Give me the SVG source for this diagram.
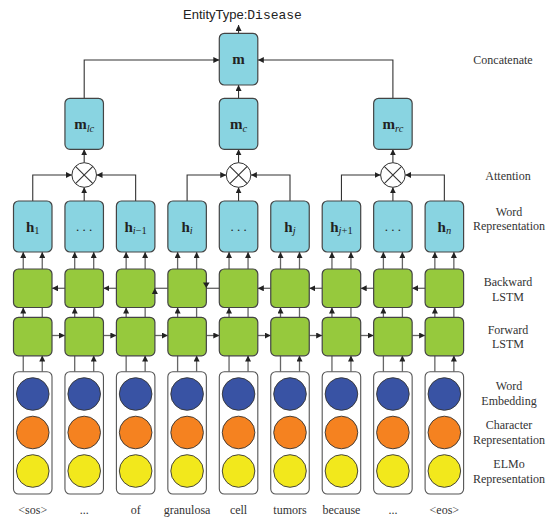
<svg xmlns="http://www.w3.org/2000/svg" width="554" height="519" viewBox="0 0 554 519">
<style>
.hb{fill:#89D4E1;stroke:#444;stroke-width:1.2}
.ls{fill:#96C93D;stroke:#444;stroke-width:1.2}
.eb{fill:#fff;stroke:#555;stroke-width:1.1}
.cb{fill:#3953A4;stroke:#333;stroke-width:0.9}
.co{fill:#F58220;stroke:#333;stroke-width:0.9}
.cy{fill:#F2E81C;stroke:#333;stroke-width:0.9}
.att{fill:#fff;stroke:#333;stroke-width:1}
.c1{fill:none;stroke:#666;stroke-width:1.3}
.c2{fill:none;stroke:#333;stroke-width:1.1}
.a{marker-end:url(#arr)}
.lab{font-family:"Liberation Serif","Times New Roman",serif;font-size:12px;fill:#333;text-anchor:middle}
.bl{font-family:"Liberation Serif","Times New Roman",serif;font-size:15px;font-weight:bold;fill:#222;text-anchor:middle}
.sub{font-size:10.5px;font-weight:normal;font-style:italic}
.sr{font-size:10.5px;font-weight:normal}
.dots{font-family:"Liberation Serif",serif;font-size:13px;fill:#222;text-anchor:middle}
</style>
<defs>
<marker id="arr" viewBox="0 0 10 10" refX="10" refY="5" markerWidth="6" markerHeight="6" markerUnits="userSpaceOnUse" orient="auto">
<path d="M0,0 L10,5 L0,10 z" fill="#222"/>
</marker>
</defs>

<g id="connectors">
<g id="vertical">
<path class="c1" d="M23.25 371.7V355.5M42.25 317.3V307.5"/>
<path class="c1 a" d="M42.25 371.7V355.5"/><path class="c1 a" d="M23.25 317.3V307.5"/><path class="c1 a" d="M23.25 269V252"/><path class="c1 a" d="M42.25 269V252"/>
<path class="c1" d="M74.7 371.7V355.5M93.7 317.3V307.5"/>
<path class="c1 a" d="M93.7 371.7V355.5"/><path class="c1 a" d="M74.7 317.3V307.5"/><path class="c1 a" d="M74.7 269V252"/><path class="c1 a" d="M93.7 269V252"/>
<path class="c1" d="M126.15 371.7V355.5M145.15 317.3V307.5"/>
<path class="c1 a" d="M145.15 371.7V355.5"/><path class="c1 a" d="M126.15 317.3V307.5"/><path class="c1 a" d="M126.15 269V252"/><path class="c1 a" d="M145.15 269V252"/>
<path class="c1" d="M177.6 371.7V355.5M196.6 317.3V307.5"/>
<path class="c1 a" d="M196.6 371.7V355.5"/><path class="c1 a" d="M177.6 317.3V307.5"/><path class="c1 a" d="M177.6 269V252"/><path class="c1 a" d="M196.6 269V252"/>
<path class="c1" d="M229.05 371.7V355.5M248.05 317.3V307.5"/>
<path class="c1 a" d="M248.05 371.7V355.5"/><path class="c1 a" d="M229.05 317.3V307.5"/><path class="c1 a" d="M229.05 269V252"/><path class="c1 a" d="M248.05 269V252"/>
<path class="c1" d="M280.5 371.7V355.5M299.5 317.3V307.5"/>
<path class="c1 a" d="M299.5 371.7V355.5"/><path class="c1 a" d="M280.5 317.3V307.5"/><path class="c1 a" d="M280.5 269V252"/><path class="c1 a" d="M299.5 269V252"/>
<path class="c1" d="M331.95 371.7V355.5M350.95 317.3V307.5"/>
<path class="c1 a" d="M350.95 371.7V355.5"/><path class="c1 a" d="M331.95 317.3V307.5"/><path class="c1 a" d="M331.95 269V252"/><path class="c1 a" d="M350.95 269V252"/>
<path class="c1" d="M383.4 371.7V355.5M402.4 317.3V307.5"/>
<path class="c1 a" d="M402.4 371.7V355.5"/><path class="c1 a" d="M383.4 317.3V307.5"/><path class="c1 a" d="M383.4 269V252"/><path class="c1 a" d="M402.4 269V252"/>
<path class="c1" d="M434.85 371.7V355.5M453.85 317.3V307.5"/>
<path class="c1 a" d="M453.85 371.7V355.5"/><path class="c1 a" d="M434.85 317.3V307.5"/><path class="c1 a" d="M434.85 269V252"/><path class="c1 a" d="M453.85 269V252"/>
</g>
<g id="backward-links">
<path class="c1 a" d="M64.95 288.3H52"/>
<path class="c1 a" d="M116.4 288.3H103.45"/>
<path class="c1" d="M167.85 288.3H154.9"/>
<path class="c1" d="M219.3 288.3H206.35"/>
<path class="c1 a" d="M270.75 288.3H257.8"/>
<path class="c1 a" d="M322.2 288.3H309.25"/>
<path class="c1 a" d="M373.65 288.3H360.7"/>
<path class="c1 a" d="M425.1 288.3H412.15"/>
</g>
<g id="forward-links">
<path class="c1 a" d="M52 335.5H64.95"/>
<path class="c1 a" d="M103.45 335.5H116.4"/>
<path class="c1 a" d="M154.9 335.5H167.85"/>
<path class="c1 a" d="M206.35 335.5H219.3"/>
<path class="c1 a" d="M257.8 335.5H270.75"/>
<path class="c1 a" d="M309.25 335.5H322.2"/>
<path class="c1 a" d="M360.7 335.5H373.65"/>
<path class="c1 a" d="M412.15 335.5H425.1"/>
</g>
<g id="attention-links">
<path class="c2 a" d="M32.75 201V175H71.9"/>
<path class="c2 a" d="M135.65 201V175H96.5"/>
<path class="c2 a" d="M84.2 201V187.3"/>
<path class="c2 a" d="M84.2 162.7V149.3"/>
<path class="c2 a" d="M187.1 201V175H226.25"/>
<path class="c2 a" d="M290 201V175H250.85"/>
<path class="c2 a" d="M238.55 201V187.3"/>
<path class="c2 a" d="M238.55 162.7V149.3"/>
<path class="c2 a" d="M341.45 201V175H380.6"/>
<path class="c2 a" d="M444.35 201V175H405.2"/>
<path class="c2 a" d="M392.9 201V187.3"/>
<path class="c2 a" d="M392.9 162.7V149.3"/>
</g>
<g id="concat-links">
<path class="c2 a" d="M84.2 98.3V60H219.3"/>
<path class="c2 a" d="M392.9 98.3V60H257.8"/>
<path class="c2 a" d="M238.55 98.3V85"/>
<path class="c2 a" d="M238.55 33.3V25"/>
</g>
</g>

<g id="title"><text x="183" y="19" font-size="13" fill="#222"><tspan font-family="Liberation Sans, Arial, sans-serif">EntityType:</tspan><tspan font-family="Liberation Mono, Courier New, monospace">Disease</tspan></text></g>

<g id="node-m"><rect class="hb" x="219.3" y="33.3" width="38.5" height="51.7" rx="5"/><text class="bl" x="238.55" y="64">m</text></g>
<g id="node-mlc"><rect class="hb" x="64.95" y="98.3" width="38.5" height="51" rx="5"/><text class="bl" x="84.2" y="129">m<tspan class="sub" dy="3">lc</tspan></text></g>
<g id="node-mc"><rect class="hb" x="219.3" y="98.3" width="38.5" height="51" rx="5"/><text class="bl" x="238.55" y="129">m<tspan class="sub" dy="3">c</tspan></text></g>
<g id="node-mrc"><rect class="hb" x="373.65" y="98.3" width="38.5" height="51" rx="5"/><text class="bl" x="392.9" y="129">m<tspan class="sub" dy="3">rc</tspan></text></g>

<g id="att-left"><circle class="att" cx="84.2" cy="175" r="12.3"/><path class="c2" d="M75.5 166.3L92.9 183.7M92.9 166.3L75.5 183.7"/></g>
<g id="att-center"><circle class="att" cx="238.55" cy="175" r="12.3"/><path class="c2" d="M229.85 166.3L247.25 183.7M247.25 166.3L229.85 183.7"/></g>
<g id="att-right"><circle class="att" cx="392.9" cy="175" r="12.3"/><path class="c2" d="M384.2 166.3L401.6 183.7M401.6 166.3L384.2 183.7"/></g>

<g id="h-1"><rect class="hb" x="13.5" y="201" width="38.5" height="51" rx="5"/><text class="bl" x="32.75" y="231.5">h<tspan class="sr" dy="2">1</tspan></text></g>
<g id="h-dots1"><rect class="hb" x="64.95" y="201" width="38.5" height="51" rx="5"/><text class="dots" x="84.2" y="231">. . .</text></g>
<g id="h-im1"><rect class="hb" x="116.4" y="201" width="38.5" height="51" rx="5"/><text class="bl" x="135.65" y="231.5">h<tspan class="sub" dy="2">i</tspan><tspan class="sr">−1</tspan></text></g>
<g id="h-i"><rect class="hb" x="167.85" y="201" width="38.5" height="51" rx="5"/><text class="bl" x="187.1" y="231.5">h<tspan class="sub" dy="2">i</tspan></text></g>
<g id="h-dots2"><rect class="hb" x="219.3" y="201" width="38.5" height="51" rx="5"/><text class="dots" x="238.55" y="231">. . .</text></g>
<g id="h-j"><rect class="hb" x="270.75" y="201" width="38.5" height="51" rx="5"/><text class="bl" x="290" y="231.5">h<tspan class="sub" dy="2">j</tspan></text></g>
<g id="h-jp1"><rect class="hb" x="322.2" y="201" width="38.5" height="51" rx="5"/><text class="bl" x="341.45" y="231.5">h<tspan class="sub" dy="2">j</tspan><tspan class="sr">+1</tspan></text></g>
<g id="h-dots3"><rect class="hb" x="373.65" y="201" width="38.5" height="51" rx="5"/><text class="dots" x="392.9" y="231">. . .</text></g>
<g id="h-n"><rect class="hb" x="425.1" y="201" width="38.5" height="51" rx="5"/><text class="bl" x="444.35" y="231.5">h<tspan class="sub" dy="2">n</tspan></text></g>

<g id="bwd-lstm">
<rect class="ls" x="13.5" y="269" width="38.5" height="38.5" rx="5"/>
<rect class="ls" x="64.95" y="269" width="38.5" height="38.5" rx="5"/>
<rect class="ls" x="116.4" y="269" width="38.5" height="38.5" rx="5"/>
<rect class="ls" x="167.85" y="269" width="38.5" height="38.5" rx="5"/>
<rect class="ls" x="219.3" y="269" width="38.5" height="38.5" rx="5"/>
<rect class="ls" x="270.75" y="269" width="38.5" height="38.5" rx="5"/>
<rect class="ls" x="322.2" y="269" width="38.5" height="38.5" rx="5"/>
<rect class="ls" x="373.65" y="269" width="38.5" height="38.5" rx="5"/>
<rect class="ls" x="425.1" y="269" width="38.5" height="38.5" rx="5"/>
</g>
<g id="bwd-arrowheads">
<path d="M151.9 294 L154.9 288 L157.9 294 z" fill="#222"/>
<path d="M203 282.5 L206.3 288 L209.6 282.5 z" fill="#222"/>
</g>
<g id="fwd-lstm">
<rect class="ls" x="13.5" y="317.3" width="38.5" height="38.5" rx="5"/>
<rect class="ls" x="64.95" y="317.3" width="38.5" height="38.5" rx="5"/>
<rect class="ls" x="116.4" y="317.3" width="38.5" height="38.5" rx="5"/>
<rect class="ls" x="167.85" y="317.3" width="38.5" height="38.5" rx="5"/>
<rect class="ls" x="219.3" y="317.3" width="38.5" height="38.5" rx="5"/>
<rect class="ls" x="270.75" y="317.3" width="38.5" height="38.5" rx="5"/>
<rect class="ls" x="322.2" y="317.3" width="38.5" height="38.5" rx="5"/>
<rect class="ls" x="373.65" y="317.3" width="38.5" height="38.5" rx="5"/>
<rect class="ls" x="425.1" y="317.3" width="38.5" height="38.5" rx="5"/>
</g>

<g id="emb-0"><rect class="eb" x="13.5" y="371.7" width="38.5" height="122.3" rx="5"/><circle class="cb" cx="32.75" cy="394" r="16.3"/><circle class="co" cx="32.75" cy="432.5" r="16.3"/><circle class="cy" cx="32.75" cy="471" r="16.3"/></g>
<g id="emb-1"><rect class="eb" x="64.95" y="371.7" width="38.5" height="122.3" rx="5"/><circle class="cb" cx="84.2" cy="394" r="16.3"/><circle class="co" cx="84.2" cy="432.5" r="16.3"/><circle class="cy" cx="84.2" cy="471" r="16.3"/></g>
<g id="emb-2"><rect class="eb" x="116.4" y="371.7" width="38.5" height="122.3" rx="5"/><circle class="cb" cx="135.65" cy="394" r="16.3"/><circle class="co" cx="135.65" cy="432.5" r="16.3"/><circle class="cy" cx="135.65" cy="471" r="16.3"/></g>
<g id="emb-3"><rect class="eb" x="167.85" y="371.7" width="38.5" height="122.3" rx="5"/><circle class="cb" cx="187.1" cy="394" r="16.3"/><circle class="co" cx="187.1" cy="432.5" r="16.3"/><circle class="cy" cx="187.1" cy="471" r="16.3"/></g>
<g id="emb-4"><rect class="eb" x="219.3" y="371.7" width="38.5" height="122.3" rx="5"/><circle class="cb" cx="238.55" cy="394" r="16.3"/><circle class="co" cx="238.55" cy="432.5" r="16.3"/><circle class="cy" cx="238.55" cy="471" r="16.3"/></g>
<g id="emb-5"><rect class="eb" x="270.75" y="371.7" width="38.5" height="122.3" rx="5"/><circle class="cb" cx="290" cy="394" r="16.3"/><circle class="co" cx="290" cy="432.5" r="16.3"/><circle class="cy" cx="290" cy="471" r="16.3"/></g>
<g id="emb-6"><rect class="eb" x="322.2" y="371.7" width="38.5" height="122.3" rx="5"/><circle class="cb" cx="341.45" cy="394" r="16.3"/><circle class="co" cx="341.45" cy="432.5" r="16.3"/><circle class="cy" cx="341.45" cy="471" r="16.3"/></g>
<g id="emb-7"><rect class="eb" x="373.65" y="371.7" width="38.5" height="122.3" rx="5"/><circle class="cb" cx="392.9" cy="394" r="16.3"/><circle class="co" cx="392.9" cy="432.5" r="16.3"/><circle class="cy" cx="392.9" cy="471" r="16.3"/></g>
<g id="emb-8"><rect class="eb" x="425.1" y="371.7" width="38.5" height="122.3" rx="5"/><circle class="cb" cx="444.35" cy="394" r="16.3"/><circle class="co" cx="444.35" cy="432.5" r="16.3"/><circle class="cy" cx="444.35" cy="471" r="16.3"/></g>

<g id="words">
<text class="lab" x="32.75" y="514">&lt;sos&gt;</text>
<text class="lab" x="84.2" y="514">...</text>
<text class="lab" x="135.65" y="514">of</text>
<text class="lab" x="187.1" y="514">granulosa</text>
<text class="lab" x="238.55" y="514">cell</text>
<text class="lab" x="290" y="514">tumors</text>
<text class="lab" x="341.45" y="514">because</text>
<text class="lab" x="392.9" y="514">...</text>
<text class="lab" x="444.35" y="514">&lt;eos&gt;</text>
</g>

<g id="row-labels">
<text class="lab" x="503" y="64">Concatenate</text>
<text class="lab" x="508" y="180">Attention</text>
<text class="lab" x="509" y="215.5">Word</text>
<text class="lab" x="509" y="230">Representation</text>
<text class="lab" x="508" y="286">Backward</text>
<text class="lab" x="508" y="300.5">LSTM</text>
<text class="lab" x="508" y="334">Forward</text>
<text class="lab" x="508" y="348.3">LSTM</text>
<text class="lab" x="509" y="390">Word</text>
<text class="lab" x="509" y="405">Embedding</text>
<text class="lab" x="509" y="429">Character</text>
<text class="lab" x="509" y="444">Representation</text>
<text class="lab" x="509" y="468">ELMo</text>
<text class="lab" x="509" y="482.5">Representation</text>
</g>
</svg>
